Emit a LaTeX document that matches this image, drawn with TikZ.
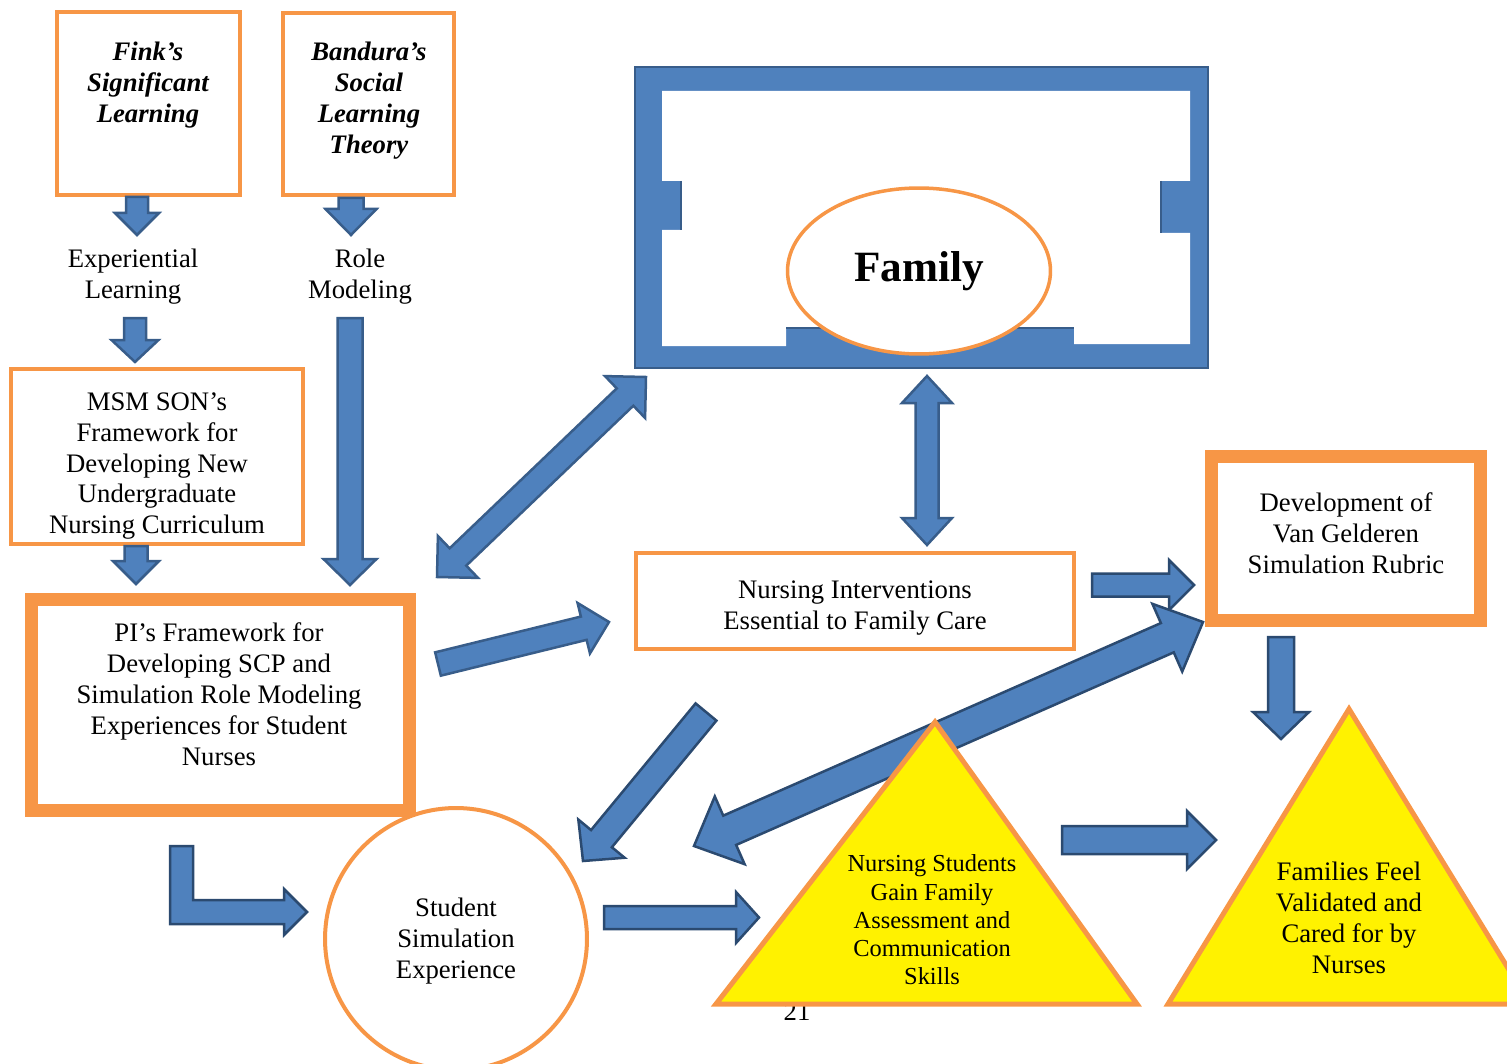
\documentclass[tikz,border=0pt]{standalone}
\usepackage{fontspec}
\setmainfont{Liberation Serif}
\usetikzlibrary{shapes.geometric, positioning, calc}

\definecolor{ofblue}{HTML}{4F81BD}
\definecolor{ofedge}{HTML}{385D8A}
\definecolor{ofdark}{HTML}{2B4A70}
\definecolor{oforange}{HTML}{F79646}

% block arrow: [style]{from}{to}{shaft half width}{head half width}{head length}, sizes in px
\newcommand\blockarrow[6][]{%
  \coordinate (ba-h) at ($(#3)!#6*0.02cm!(#2)$);
  \filldraw[barrow,#1] ($(#2)!#4*0.02cm!90:(#3)$) -- ($(ba-h)!#4*0.02cm!90:(#3)$)
    -- ($(ba-h)!#5*0.02cm!90:(#3)$) -- (#3) -- ($(ba-h)!#5*0.02cm!-90:(#3)$)
    -- ($(ba-h)!#4*0.02cm!-90:(#3)$) -- ($(#2)!#4*0.02cm!-90:(#3)$) -- cycle;}
% same, with a head at both ends
\newcommand\dblockarrow[6][]{%
  \coordinate (ba-g) at ($(#2)!#6*0.02cm!(#3)$);
  \coordinate (ba-h) at ($(#3)!#6*0.02cm!(#2)$);
  \filldraw[barrow,#1] (#2) -- ($(ba-g)!#5*0.02cm!90:(#3)$) -- ($(ba-g)!#4*0.02cm!90:(#3)$)
    -- ($(ba-h)!#4*0.02cm!90:(#3)$) -- ($(ba-h)!#5*0.02cm!90:(#3)$) -- (#3)
    -- ($(ba-h)!#5*0.02cm!-90:(#3)$) -- ($(ba-h)!#4*0.02cm!-90:(#3)$)
    -- ($(ba-g)!#4*0.02cm!-90:(#3)$) -- ($(ba-g)!#5*0.02cm!-90:(#3)$) -- cycle;}

\begin{document}
\begin{tikzpicture}[
  x=0.02cm, y=-0.02cm,
  txt/.style    = {align=center, inner sep=0pt, font=\fontsize{15.2}{17.6}\selectfont},
  ttl/.style    = {txt, font=\fontsize{15.2}{17.6}\selectfont\bfseries\itshape},
  obox/.style   = {draw=oforange, line width=0.08cm, fill=white, inner sep=0pt},
  tbox/.style   = {obox, line width=0.26cm},
  tri/.style    = {draw=oforange, line width=0.1cm, fill=yellow},
  barrow/.style = {fill=ofblue, draw=ofedge, line width=0.05cm},
  darrow/.style = {draw=ofdark}
]
  \useasboundingbox (0,0) rectangle (1507,1064);

  % theories
  \node[obox, minimum width=3.66cm, minimum height=3.66cm] (fink) at (148.5,103.5) {};
  \node[ttl] (fink-t) at (148,85) {Fink's\\Significant\\Learning};
  \node[obox, minimum width=3.42cm, minimum height=3.64cm] (band) at (368.5,104) {};
  \node[ttl] (band-t) at (369,101) {Bandura's\\Social\\Learning\\Theory};
  \node[txt] (exp)  at (133,277) {Experiential\\Learning};
  \node[txt] (role) at (360,277) {Role\\Modeling};

  % frameworks
  \node[obox, minimum width=5.84cm, minimum height=3.5cm] (msm) at (157,456.5) {};
  \node[txt] (msm-t) at (157,466) {MSM SON's\\Framework for\\Developing New\\Undergraduate\\Nursing Curriculum};
  \node[tbox, minimum width=7.56cm, minimum height=4.23cm] (pi) at (220.5,704.75) {};
  \node[txt] (pi-t) at (219,694) {PI's Framework for\\Developing SCP and\\Simulation Role Modeling\\Experiences for Student\\Nurses};

  % family frame
  \node[fill=ofblue, draw=ofedge, line width=0.05cm, minimum width=11.46cm, minimum height=6.02cm] (home) at (921.5,217.5) {};
  \fill[white] (662,91) -- (1190,91) -- (1190,181) -- (1161,181) -- (1161,233) -- (1190,233)
    -- (1190,344) -- (1074,344) -- (1074,328) -- (786,328) -- (786,346) -- (662,346)
    -- (662,230) -- (681,230) -- (681,181) -- (662,181) -- cycle;
  \draw[ofedge, line width=0.05cm] (681,181) -- (681,230) (1161,181) -- (1161,233) (786,328) -- (1074,328);
  \node[obox, ellipse, line width=0.07cm, minimum width=5.26cm, minimum height=3.32cm,
        font=\fontsize{24.6}{28}\selectfont\bfseries] (fam) at (919,271) {Family};

  \node[obox, minimum width=8.76cm, minimum height=1.92cm] (ni) at (855,601) {};
  \node[txt] (ni-t) at (855,608) {Nursing Interventions\\Essential to Family Care};
  \node[tbox, minimum width=5.38cm, minimum height=3.29cm] (dev) at (1346,538.75) {};
  \node[txt] (dev-t) at (1346,533) {Development of\\Van Gelderen\\Simulation Rubric};

  \node[obox, circle, minimum size=5.24cm] (sse) at (456,939) {};
  \node[txt] (sse-t) at (456,941) {Student\\Simulation\\Experience};
  \node[txt] (pg) at (797,1012) {21};

  % arrow ends
  \coordinate (fink-s) at (137,197);   \coordinate (exp-n)  at (137,235);
  \coordinate (band-s) at (351,198);   \coordinate (role-n) at (351,235);
  \coordinate (exp-s)  at (135,318);   \coordinate (msm-n)  at (135,362);
  \coordinate (role-s) at (350,318);   \coordinate (pi-ne)  at (350,585);
  \coordinate (msm-s)  at (136,546);   \coordinate (pi-n)   at (136,584);
  \coordinate (pi-fam) at (437,577);   \coordinate (fam-sw) at (646,377);
  \coordinate (fam-s)  at (927,376);   \coordinate (ni-n)   at (927,545);
  \coordinate (pi-e)   at (438,664);   \coordinate (ni-w)   at (609,622);
  \coordinate (ni-e)   at (1092,585);  \coordinate (dev-w)  at (1194,585);
  \coordinate (dev-s)  at (1281,637);  \coordinate (ffv-n)  at (1281,739);
  \coordinate (sse-ne) at (694,846);   \coordinate (dev-sw) at (1203,622);
  \coordinate (ni-sw)  at (706,712);   \coordinate (sse-n)  at (583,861);
  \coordinate (sse-e)  at (604,917.5); \coordinate (nsg-w)  at (759,917.5);
  \coordinate (nsg-e)  at (1062,840);  \coordinate (ffv-w)  at (1216,840);
  \coordinate (pi-s)   at (181.5,846); \coordinate (sse-w)  at (307,912);

  \blockarrow{fink-s}{exp-n}{11}{22}{22}
  \blockarrow{band-s}{role-n}{12.5}{25.5}{26}
  \blockarrow{exp-s}{msm-n}{11}{23.5}{22}
  \blockarrow{role-s}{pi-ne}{12.5}{26.5}{26}
  \blockarrow{msm-s}{pi-n}{11.5}{23}{23}
  \dblockarrow{pi-fam}{fam-sw}{12}{29}{29}
  \dblockarrow{fam-s}{ni-n}{11.5}{25}{27}
  \blockarrow{pi-e}{ni-w}{12}{26}{26}
  \blockarrow[darrow]{ni-e}{dev-w}{11.5}{25}{25}
  \blockarrow[darrow]{dev-s}{ffv-n}{13}{28}{27}
  \dblockarrow[darrow]{sse-ne}{dev-sw}{16}{37}{39}
  \blockarrow[darrow]{ni-sw}{sse-n}{13.5}{30}{29}
  \blockarrow[darrow]{sse-e}{nsg-w}{11.5}{25.5}{23}
  \blockarrow[darrow]{nsg-e}{ffv-w}{14}{29}{29}
  \filldraw[barrow, darrow] (pi-s) ++(-11.5,0) -- ++(23,0) -- ++(0,54) -- ++(91,0) -- ++(0,-11)
    -- (sse-w) -- ++(-23,23) -- ++(0,-11) -- ++(-114,0) -- cycle;

  % outcomes
  \draw[tri] (935,722) -- (1137,1004) -- (716,1004) -- cycle;
  \node[txt, font=\fontsize{13.9}{16.1}\selectfont] (nsg) at (932,920) {Nursing Students\\Gain Family\\Assessment and\\Communication\\Skills};
  \draw[tri] (1349,709) -- (1530,1004) -- (1168,1004) -- cycle;
  \node[txt] (ffv) at (1349,918) {Families Feel\\Validated and\\Cared for by\\Nurses};
\end{tikzpicture}
\end{document}
